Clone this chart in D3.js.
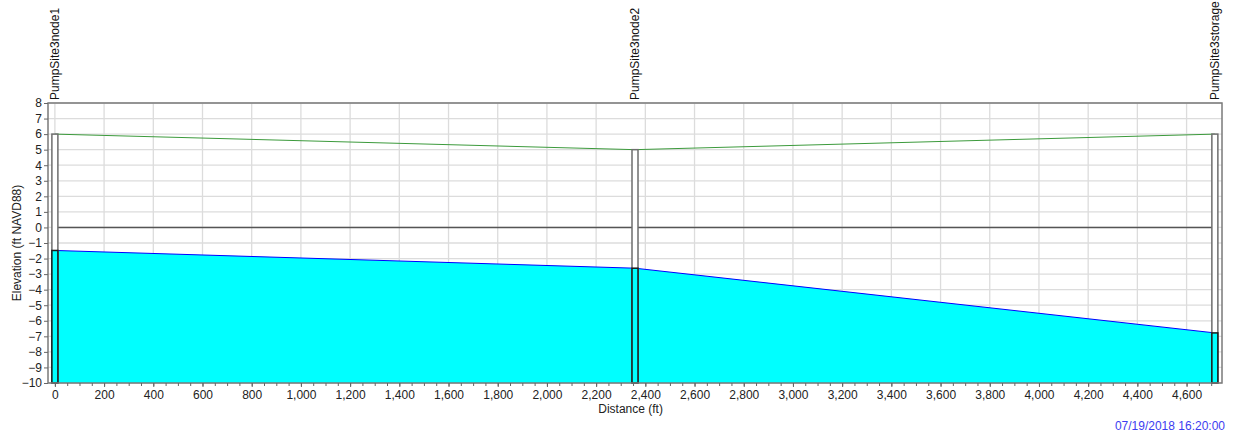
<!DOCTYPE html>
<html>
<head>
<meta charset="utf-8">
<script src="https://cdn.jsdelivr.net/npm/d3@7"></script>
<style>
  body { margin: 0; background: #fff; }
  svg { display: block; font-family: "Liberation Sans", Arial, sans-serif; }
</style>
</head>
<body>
<svg id="profile" width="1233" height="436"></svg>
<script>
// profile data
const nodeNames = ["PumpSite3node1", "PumpSite3node2", "PumpSite3storage"];
const nodeDist = [0, 2358, 4715];
const groundElev = [6, 5, 6];
const crownElev = [0, 0, 0];
const waterElev = [-1.48, -2.62, -6.78];
const invertElev = -10;
const xTicks = d3.range(0, 4601, 200);
const yTicks = d3.range(-10, 9, 1);
const timeStamp = "07/19/2018 16:20:00";

const svg = d3.select("#profile");
const m = { top: 103, right: 11, bottom: 53, left: 48 };
const width = 1233, height = 436;

const x = d3.scaleLinear().domain([-28, 4744]).range([m.left, width - m.right]);
const y = d3.scaleLinear().domain([-10, 8]).range([height - m.bottom, m.top]);

const nodes = nodeNames.map((n, i) => ({
  name: n, dist: nodeDist[i], ground: groundElev[i], crown: crownElev[i], water: waterElev[i]
}));

// grid
svg.append("g")
  .selectAll("line.vg")
  .data(xTicks)
  .join("line")
  .attr("x1", d => x(d)).attr("x2", d => x(d))
  .attr("y1", m.top).attr("y2", height - m.bottom)
  .attr("stroke", "#dcdcdc").attr("stroke-width", 1.3);

svg.append("g")
  .selectAll("line.hg")
  .data(yTicks)
  .join("line")
  .attr("x1", m.left).attr("x2", width - m.right)
  .attr("y1", d => y(d)).attr("y2", d => y(d))
  .attr("stroke", "#dcdcdc").attr("stroke-width", 1.3);

// water fill
const area = d3.area()
  .x(d => x(d.dist))
  .y0(y(invertElev))
  .y1(d => y(d.water));

const fillData = [{ dist: x.invert(m.left + 3), water: nodes[0].water }, ...nodes,
  { dist: x.invert(x(nodes[2].dist) + 3), water: nodes[2].water }];

svg.append("path")
  .datum(fillData)
  .attr("fill", "#00ffff")
  .attr("d", area);

svg.append("path")
  .datum(nodes)
  .attr("fill", "none")
  .attr("stroke", "#0000ff")
  .attr("stroke-width", 1)
  .attr("d", d3.line().x(d => x(d.dist)).y(d => y(d.water)));

// crown line
svg.append("path")
  .datum(nodes)
  .attr("fill", "none")
  .attr("stroke", "#555")
  .attr("stroke-width", 1.5)
  .attr("d", d3.line().x(d => x(d.dist)).y(d => y(d.crown)));

// ground line
svg.append("path")
  .datum(nodes)
  .attr("fill", "none")
  .attr("stroke", "#3c9a3c")
  .attr("stroke-width", 1)
  .attr("d", d3.line().x(d => x(d.dist)).y(d => y(d.ground)));

// node boxes
const bw = 6;
const ng = svg.append("g");
ng.selectAll("rect.box")
  .data(nodes)
  .join("rect")
  .attr("x", d => x(d.dist) - bw / 2)
  .attr("y", d => y(d.ground))
  .attr("width", bw)
  .attr("height", d => y(invertElev) - y(d.ground))
  .attr("fill", "#fff")
  .attr("stroke", "#6e6e6e")
  .attr("stroke-width", 1.5);

ng.selectAll("rect.wet")
  .data(nodes)
  .join("rect")
  .attr("x", d => x(d.dist) - bw / 2)
  .attr("y", d => y(d.water))
  .attr("width", bw)
  .attr("height", d => y(invertElev) - y(d.water))
  .attr("fill", "#00ffff")
  .attr("stroke", "#1a1a1a")
  .attr("stroke-width", 1.5);

// node labels
ng.selectAll("text")
  .data(nodes)
  .join("text")
  .attr("transform", d => `translate(${x(d.dist) + 4},${m.top - 3}) rotate(-90)`)
  .attr("font-size", "12px")
  .attr("fill", "#111")
  .text(d => d.name);

// frame
svg.append("rect")
  .attr("x", m.left).attr("y", m.top)
  .attr("width", width - m.left - m.right)
  .attr("height", height - m.top - m.bottom)
  .attr("fill", "none")
  .attr("stroke", "#7a7a7a")
  .attr("stroke-width", 1.5);

// axes
const xAxis = svg.append("g")
  .attr("transform", `translate(0,${height - m.bottom})`)
  .call(d3.axisBottom(x).tickValues(xTicks).tickSize(4).tickFormat(d3.format(",")));
svg.append("g")
  .attr("transform", `translate(0,${height - m.bottom})`)
  .call(d3.axisBottom(x).tickValues(d3.range(0, 4744, 50)).tickSize(3).tickFormat(""))
  .call(g => g.select(".domain").remove());

const yAxis = svg.append("g")
  .attr("transform", `translate(${m.left},0)`)
  .call(d3.axisLeft(y).tickValues(yTicks).tickSize(4).tickPadding(2));

[xAxis, yAxis].forEach(g => {
  g.select(".domain").remove();
  g.selectAll("text").attr("font-size", "12px").attr("fill", "#222")
    .style("font-family", "'Liberation Sans', Arial, sans-serif");
  g.selectAll("line").attr("stroke", "#555");
});
svg.selectAll(".tick line").attr("stroke", "#666");

// titles
svg.append("text")
  .attr("x", x(2340))
  .attr("y", 413)
  .attr("text-anchor", "middle")
  .attr("font-size", "12px")
  .attr("fill", "#222")
  .text("Distance (ft)");

svg.append("text")
  .attr("transform", `translate(21,${y(-1)}) rotate(-90)`)
  .attr("text-anchor", "middle")
  .attr("font-size", "12px")
  .attr("fill", "#222")
  .text("Elevation (ft NAVD88)");

svg.append("text")
  .attr("x", 1225)
  .attr("y", 430)
  .attr("text-anchor", "end")
  .attr("font-size", "12px")
  .attr("fill", "#3d3df0")
  .text(timeStamp);
</script>
</body>
</html>
